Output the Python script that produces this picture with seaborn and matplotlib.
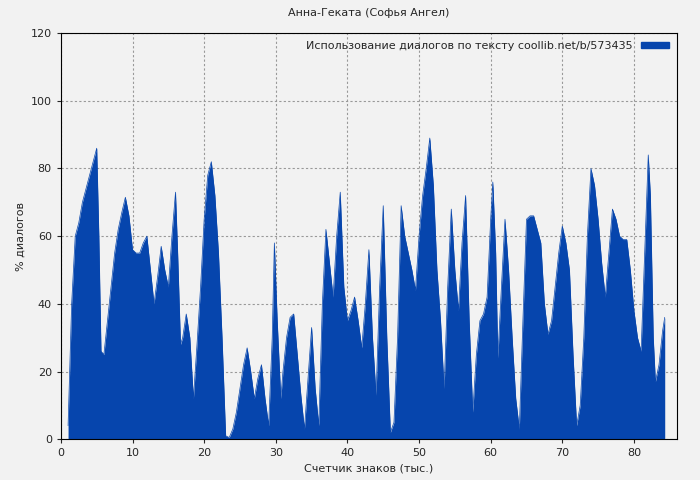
import matplotlib
matplotlib.use("Agg")
import matplotlib.pyplot as plt
import seaborn as sns
import pandas as pd

x_vals = [1,1.5,2,2.5,3,3.5,4,4.5,5,5.3,5.6,6,6.5,7,7.5,8,8.5,9,9.5,10,10.5,11,11.5,12,12.5,13,13.5,14,14.5,15,15.5,16,16.3,16.7,17,17.5,18,18.5,19,19.5,20,20.5,21,21.5,22,22.5,23,23.5,24,24.5,25,25.5,26,26.5,27,27.5,28,28.5,29,29.5,29.8,30.2,30.7,31,31.5,32,32.5,33,33.5,34,34.5,35,35.5,36,36.5,37,37.5,38,38.5,39,39.5,40,40.5,41,41.5,42,42.5,43,43.5,44,44.5,45,45.5,46,46.5,47,47.5,48,48.5,49,49.5,50,50.5,51,51.5,52,52.5,53,53.5,54,54.5,55,55.5,56,56.5,57,57.5,58,58.5,59,59.5,60,60.3,60.7,61,61.5,62,62.5,63,63.5,64,64.5,65,65.5,66,66.5,67,67.5,68,68.5,69,69.5,70,70.5,71,71.5,72,72.5,73,73.5,74,74.5,75,75.5,76,76.5,77,77.5,78,78.5,79,79.5,80,80.5,81,81.5,82,82.3,82.7,83,83.5,84,84.3]
y_vals = [4,40,60,64,70,74,78,82,86,60,26,25,35,45,55,62,67,71.5,66,56,55,55,58,60,50,40,48,57,50,45,60,73,55,28,30,37,30,12,28,45,65,78,82,72,55,30,1,0.5,3,8,15,22,27,20,12,18,22,12,4,30,58,35,12,20,30,36,37,25,13,3,18,33,15,4,40,62,52,42,60,73,45,35,38,42,35,27,40,56,30,13,45,69,30,2,5,30,69,60,55,50,44,60,72,80,89,75,50,35,15,45,68,50,38,58,72,35,8,25,35,37,42,65,76,55,24,45,65,50,30,12,3,35,65,66,66,62,58,40,31,35,45,55,63,58,50,25,4,10,30,60,80,75,65,52,42,55,68,65,60,59,59,50,38,30,26,55,84,72,30,17,22,32,36]

df = pd.DataFrame({"x": x_vals, "y": y_vals})
color = "#0645ad"
sns.set_style("whitegrid")
plt.rcParams['font.family'] = ['DejaVu Sans']
fig, ax = plt.subplots(figsize=(7, 4.8), dpi=100)
fig.patch.set_facecolor("#f2f2f2")
ax.set_facecolor("#f2f2f2")
sns.lineplot(data=df, x="x", y="y", ax=ax, color=color, linewidth=0.5)
ax.fill_between(df["x"], 0, df["y"], color=color, linewidth=0)
ax.set_xlim(0, 86)
ax.set_ylim(0, 120)
ax.set_xticks(range(0, 81, 10))
ax.set_yticks(range(0, 121, 20))
ax.grid(True, color="#999999", linestyle=(0, (2, 2)), linewidth=0.8)
for s in ax.spines.values():
    s.set_visible(True)
    s.set_color("black")
    s.set_linewidth(0.8)
ax.tick_params(labelsize=8, length=3, left=True, bottom=True)
ax.set_xlabel("Счетчик знаков (тыс.)", fontsize=8)
ax.set_ylabel("% диалогов", fontsize=8)
ax.set_title("Анна-Геката (Софья Ангел)", fontsize=8, pad=12)
from matplotlib.patches import Patch
ax.legend(handles=[Patch(color=color, label="Использование диалогов по тексту coollib.net/b/573435")],
          loc="upper right", fontsize=8, frameon=False, handlelength=2.5, handleheight=0.4,
          markerfirst=False, borderaxespad=0.3)
fig.subplots_adjust(left=0.087, right=0.967, top=0.931, bottom=0.085)
fig.savefig("out.png", dpi=100, facecolor=fig.get_facecolor())
